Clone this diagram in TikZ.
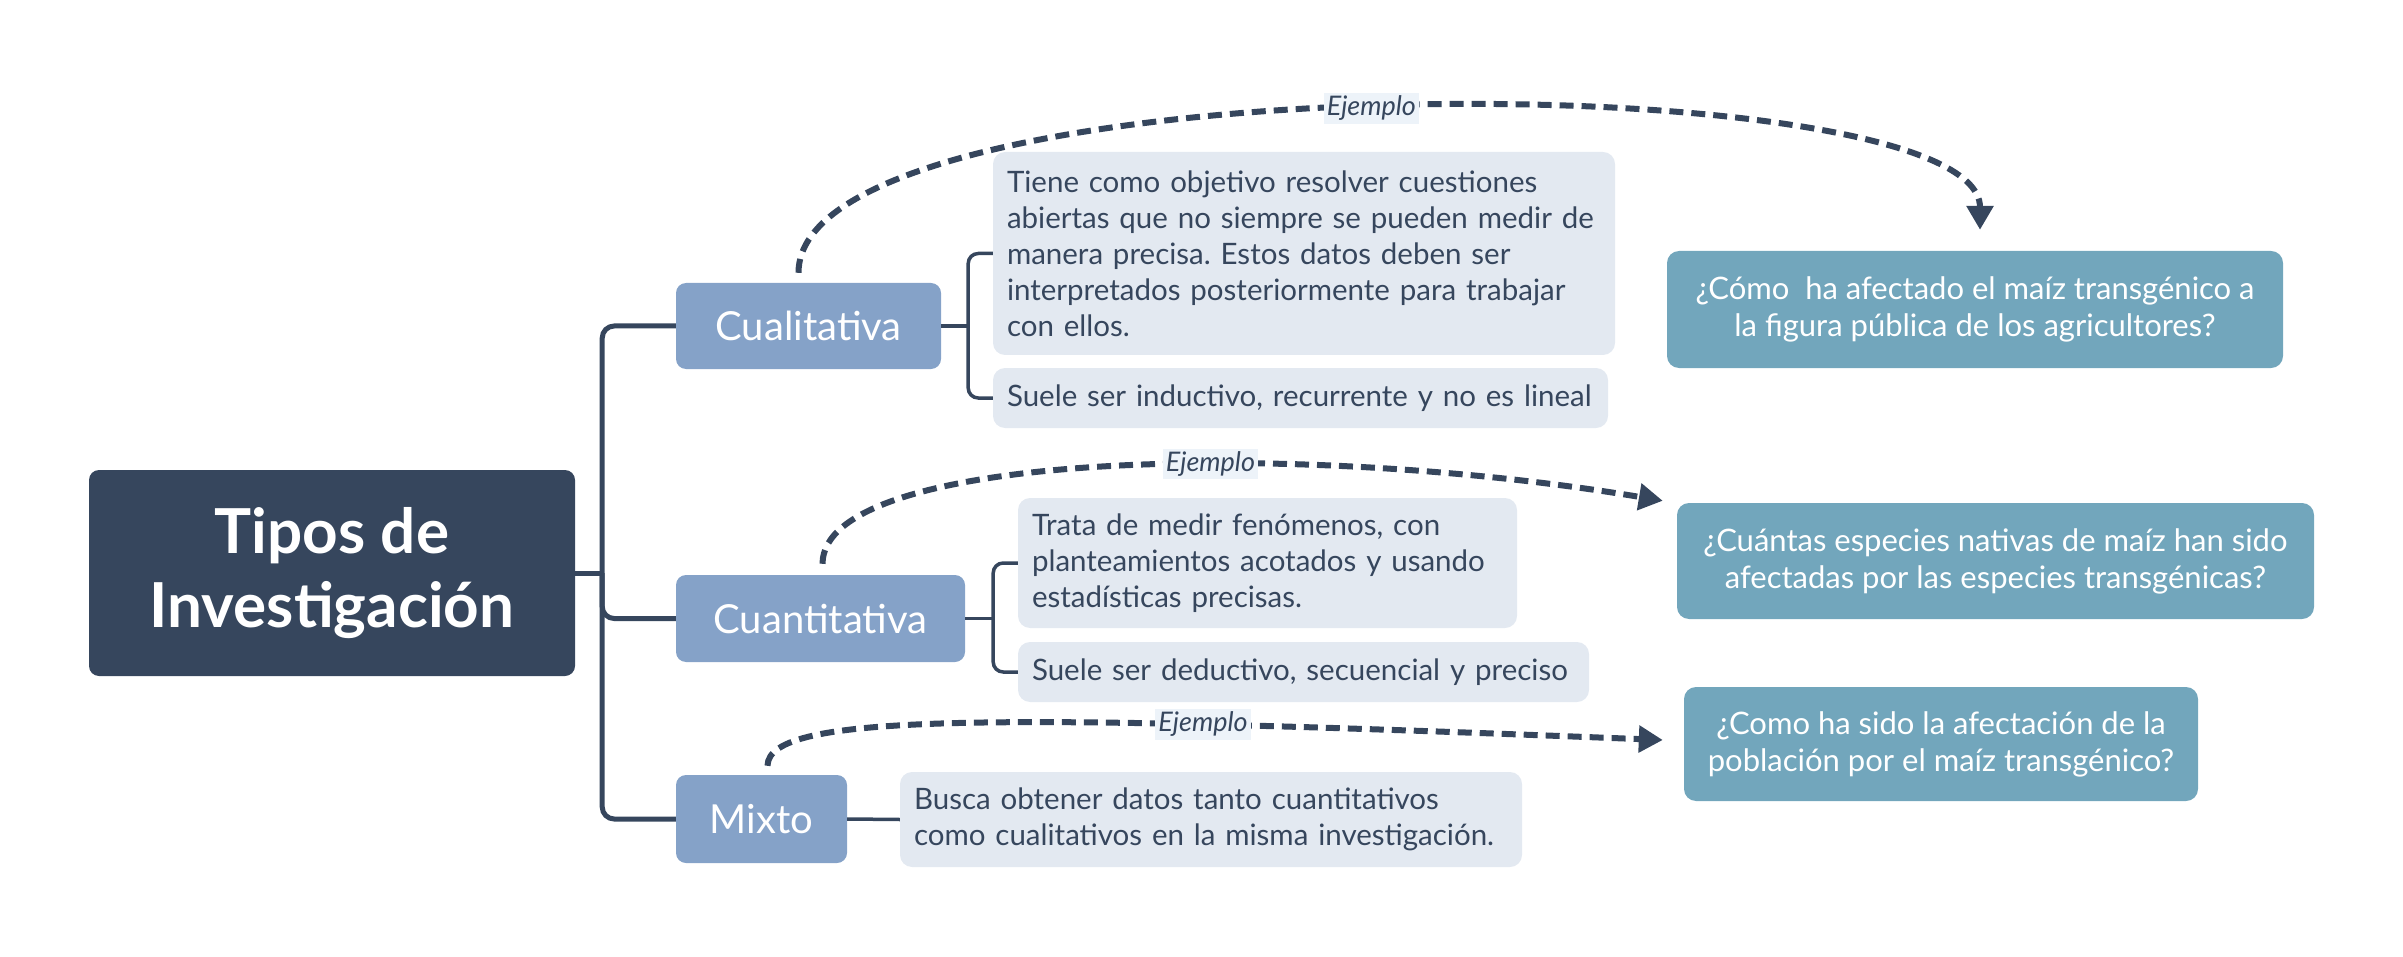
\documentclass[tikz,border=0pt]{standalone}
\usepackage{fontspec}
\setmainfont{Lato}
\frenchspacing
\usetikzlibrary{arrows.meta,positioning,calc}

\definecolor{slate}{HTML}{36465D}
\definecolor{steel}{HTML}{85A2C8}
\definecolor{mist}{HTML}{E3E9F1}
\definecolor{qblue}{HTML}{72A6BC}
\definecolor{tagbg}{HTML}{EDF3F9}

\tikzset{
  rootbox/.style={fill=slate, text=white, rounded corners=10pt, align=center,
    minimum width=486pt, minimum height=206pt, font=\fontsize{62}{74}\selectfont\bfseries},
  catbox/.style={fill=steel, text=white, rounded corners=10pt, inner sep=0pt,
    font=\fontsize{40}{44}\selectfont},
  descbox/.style={fill=mist, text=slate, rounded corners=12pt, align=left,
    inner xsep=14pt, inner ysep=0pt, font=\fontsize{29.5}{36}\selectfont},
  qbox/.style={fill=qblue, text=white, rounded corners=12pt, align=center,
    inner sep=0pt, font=\fontsize{31}{37}\selectfont},
  trunk/.style={draw=slate, line width=5pt, rounded corners=12pt},
  twig/.style={draw=slate, line width=3.5pt, rounded corners=10pt},
  exarrow/.style={draw=slate, line width=6pt, dash pattern=on 14pt off 8pt,
    -{Triangle[length=24pt,width=26pt]}},
  tag/.style={fill=tagbg, text=slate, inner sep=3pt, font=\fontsize{27}{28}\selectfont\itshape},
}

\begin{document}
\begin{tikzpicture}[x=1pt, y=-1pt]
  \useasboundingbox (0,0) rectangle (2403,957);

  % Root and the three kinds
  \node[rootbox] (root) at (332,573) {Tipos de\\Investigación};
  \node[catbox, minimum width=265pt, minimum height=86pt] (cual) at (808.5,326) {Cualitativa};
  \node[catbox, minimum width=289pt, minimum height=87pt] (cuan) at (820.5,618.5) {Cuantitativa};
  \node[catbox, minimum width=171pt, minimum height=88pt] (mixto) at (761.5,819) {Mixto};

  % Descriptions
  \node[descbox, text width=594pt, minimum height=203pt] (desc1) at (1304,253.5)
    {Tiene como objetivo resolver cuestiones\\abiertas que no siempre se pueden medir de\\manera precisa. Estos datos deben ser\\interpretados posteriormente para trabajar\\con ellos.};
  \node[descbox, text width=587pt, minimum height=60pt] (desc2) at (1300.5,398)
    {Suele ser inductivo, recurrente y no es lineal};
  \node[descbox, text width=471pt, minimum height=130pt] (desc3) at (1267.5,563)
    {Trata de medir fenómenos, con\\planteamientos acotados y usando\\estadísticas precisas.};
  \node[descbox, text width=543pt, minimum height=60pt] (desc4) at (1303.5,672)
    {Suele ser deductivo, secuencial y preciso};
  \node[descbox, text width=594pt, minimum height=95pt] (desc5) at (1211,819.5)
    {Busca obtener datos tanto cuantitativos\\como cualitativos en la misma investigación.};

  % Examples
  \node[qbox, minimum width=616pt, minimum height=117pt] (q1) at (1975,309.5)
    {¿Cómo\ \ ha afectado el maíz transgénico a\\la figura pública de los agricultores?};
  \node[qbox, minimum width=637pt, minimum height=116pt] (q2) at (1995.5,561)
    {¿Cuántas especies nativas de maíz han sido\\afectadas por las especies transgénicas?};
  \node[qbox, minimum width=514pt, minimum height=114pt] (q3) at (1941,744)
    {¿Como ha sido la afectación de la\\población por el maíz transgénico?};

  % Trunk
  \coordinate (hub) at ($(root.east)+(27,0)$);
  \draw[trunk] (root.east) -- (hub);
  \draw[trunk] (cual.west) -| (hub) |- (mixto.west);
  \draw[trunk] (cuan.west) -| (hub);

  % Twigs to the descriptions
  \draw[twig] (cual.east) -- ++(27,0) coordinate (k1);
  \draw[twig] (desc1.west) -| (k1) |- (desc2.west);
  \draw[twig] (cuan.east) -- ++(28,0) coordinate (k2);
  \draw[twig] (desc3.west) -| (k2) |- (desc4.west);
  \draw[twig] (mixto.east) -- (desc5.west);

  % Dashed example arrows
  \draw[exarrow] ([xshift=-10pt,yshift=10pt]cual.north)
    .. controls (798,60) and (1980,60) .. ([xshift=5pt,yshift=21pt]q1.north)
    node[tag, pos=0.49] {Ejemplo};
  \draw[exarrow] ([xshift=2pt,yshift=11pt]cuan.north)
    .. controls (823,450) and (1300,440) .. ([xshift=-14pt,yshift=2pt]q2.north west)
    node[tag, pos=0.6] {Ejemplo};
  \draw[exarrow] ([xshift=6pt,yshift=9pt]mixto.north)
    .. controls (768,712) and (1000,714) .. ([xshift=-21pt,yshift=4pt]q3.west)
    node[tag, pos=0.72] {Ejemplo};
\end{tikzpicture}
\end{document}
